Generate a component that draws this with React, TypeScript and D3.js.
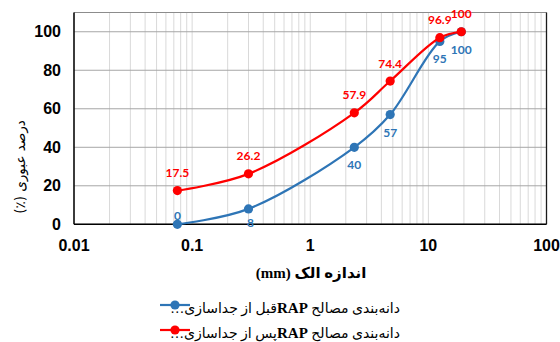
import React from "react";
import * as d3 from "d3";

// Sieve sizes (mm) and percent passing for RAP aggregate gradation
const sieveSizes = [0.075, 0.3, 2.36, 4.75, 12.5, 19];
const passingBefore = [0, 8, 40, 57, 95, 100];
const passingAfter = [17.5, 26.2, 57.9, 74.4, 96.9, 100];

// legend names split around the latin "RAP" so it can be styled on its own
const seriesNameHeads = ["دانه‌بندی مصالح ", "دانه‌بندی مصالح "];
const seriesNameCodes = ["RAP", "RAP"];
const seriesNameTails = ["قبل از جداسازی…", "پس از جداسازی…"];
const seriesColors = ["#2E75B6", "#FF0000"];

const xTicks = [0.01, 0.1, 1, 10, 100];
const yTicks = [0, 20, 40, 60, 80, 100];

const xTitle = "اندازه الک (mm)";
const yTitle = "درصد عبوری (٪)";

const W = 560;
const H = 342;
const plot = { left: 74, right: 546.5, top: 12.5, bottom: 224.3 };

export default function App() {
  const x = d3.scaleLog().domain([0.01, 100]).range([plot.left, plot.right]);
  const y = d3.scaleLinear().domain([0, 110]).range([plot.bottom, plot.top]);

  // minor grid lines 2..9 within each decade
  const minorX: number[] = [];
  for (let e = -2; e < 2; e++) {
    for (let m = 2; m <= 9; m++) minorX.push(m * Math.pow(10, e));
  }

  const line = d3
    .line<[number, number]>()
    .x((d) => x(d[0]))
    .y((d) => y(d[1]))
    .curve(d3.curveCatmullRom.alpha(0.5));

  const series = [passingBefore, passingAfter].map((vals) =>
    sieveSizes.map((s, i) => [s, vals[i]] as [number, number])
  );

  const boldSans = "'Liberation Sans', Arial, sans-serif";
  const labelFont = "Lato, 'Open Sans', sans-serif";

  return (
    <svg
      width={W}
      height={H}
      style={{ position: "absolute", left: 0, top: 0, background: "#fff" }}
    >
      {/* vertical grid */}
      {minorX.concat(xTicks).map((v, i) => (
        <line
          key={"vx" + i}
          x1={x(v)}
          x2={x(v)}
          y1={plot.top}
          y2={plot.bottom}
          stroke="#D9D9D9"
          strokeWidth={1}
        />
      ))}
      {/* horizontal grid */}
      {yTicks.map((v) => (
        <line
          key={"hy" + v}
          x1={plot.left}
          x2={plot.right}
          y1={y(v)}
          y2={y(v)}
          stroke="#A6A6A6"
          strokeWidth={1}
        />
      ))}
      {/* plot frame */}
      <line x1={plot.left} x2={plot.right} y1={plot.top} y2={plot.top} stroke="#8C8C8C" strokeWidth={1.2} />
      <line x1={plot.right} x2={plot.right} y1={plot.top} y2={plot.bottom} stroke="#1a1a1a" strokeWidth={1.3} />
      <line x1={plot.left} x2={plot.left} y1={plot.top} y2={plot.bottom} stroke="#000" strokeWidth={1.5} />
      <line x1={plot.left} x2={plot.right} y1={plot.bottom} y2={plot.bottom} stroke="#000" strokeWidth={1.5} />

      {/* y tick labels */}
      {yTicks.map((v) => (
        <text
          key={"yt" + v}
          x={61}
          y={y(v) + 5.5}
          textAnchor="end"
          fontFamily={boldSans}
          fontWeight="bold"
          fontSize={16}
          fill="#000"
        >
          {v}
        </text>
      ))}
      {/* x tick labels */}
      {xTicks.map((v) => (
        <text
          key={"xt" + v}
          x={x(v)}
          y={251}
          textAnchor="middle"
          fontFamily={boldSans}
          fontWeight="bold"
          fontSize={16}
          fill="#000"
        >
          {String(v)}
        </text>
      ))}

      {/* axis titles */}
      <text
        x={311}
        y={278}
        textAnchor="middle"
        direction="rtl"
        fontFamily="'Liberation Serif', 'DejaVu Sans', serif"
        fontWeight="bold"
        fontSize={15}
        fill="#000"
      >
        {xTitle}
      </text>
      <text
        transform={`translate(25,167) rotate(-90)`}
        textAnchor="middle"
        direction="rtl"
        fontFamily="'DejaVu Sans', sans-serif"
        fontSize={13.5}
        fill="#000"
      >
        {yTitle}
      </text>

      {/* series lines and markers */}
      {series.map((pts, si) => (
        <g key={"s" + si}>
          <path d={line(pts) || ""} fill="none" stroke={seriesColors[si]} strokeWidth={2.2} />
          {pts.map((p, i) => (
            <circle key={i} cx={x(p[0])} cy={y(p[1])} r={4.6} fill={seriesColors[si]} />
          ))}
        </g>
      ))}

      {/* data labels: before-separation below points, after-separation above */}
      {series[0].map((p, i) => {
        const px = x(p[0]);
        const py = y(p[1]);
        const above = p[1] === 0;
        const ly = above ? py - 4 : Math.min(py + 22, plot.bottom + 3);
        return (
          <text
            key={"lb" + i}
            x={px + (i === 1 ? 2 : 0)}
            y={ly}
            textAnchor="middle"
            fontFamily={labelFont}
            fontWeight="bold"
            fontSize={12}
            fill={seriesColors[0]}
          >
            {p[1]}
          </text>
        );
      })}
      {series[1].map((p, i) => (
        <text
          key={"la" + i}
          x={x(p[0])}
          y={y(p[1]) - 13.5}
          textAnchor="middle"
          fontFamily={labelFont}
          fontWeight="bold"
          fontSize={12}
          fill={seriesColors[1]}
        >
          {p[1]}
        </text>
      ))}

      {/* legend */}
      {seriesNameHeads.map((head, i) => {
        const ly = 305 + i * 25;
        return (
          <g key={"lg" + i}>
            <line x1={160} x2={190} y1={ly} y2={ly} stroke={seriesColors[i]} strokeWidth={2.2} />
            <circle cx={175} cy={ly} r={4.6} fill={seriesColors[i]} />
            <text
              x={400}
              y={ly + 8}
              direction="rtl"
              textAnchor="start"
              fontFamily="'Liberation Serif', 'DejaVu Sans', serif"
              fontSize={14}
              fill="#000"
            >
              {head}
              <tspan fontSize={15} fontWeight="bold">
                {seriesNameCodes[i]}
              </tspan>
              {seriesNameTails[i]}
            </text>
          </g>
        );
      })}
    </svg>
  );
}
